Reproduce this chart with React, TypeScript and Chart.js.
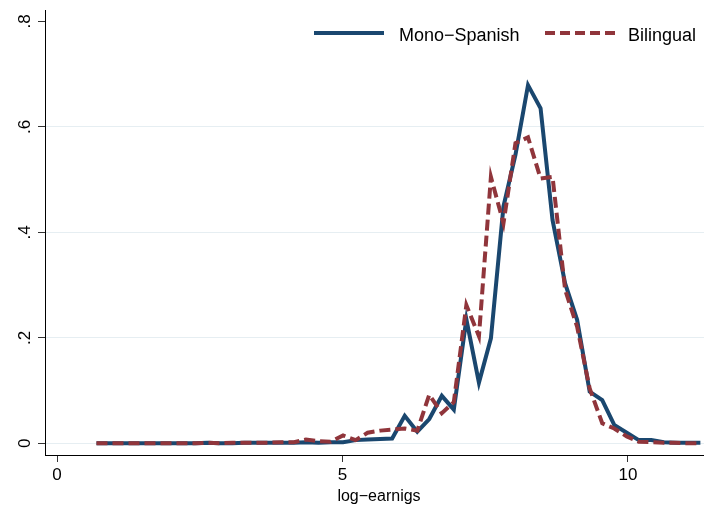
import React, { useEffect, useRef } from 'react';
import { Chart, registerables } from 'chart.js';

Chart.register(...registerables);

// Evaluation grid (log-earnings)
const xGrid = [
  0.69, 0.91, 1.12, 1.34, 1.55, 1.77, 1.99, 2.2, 2.42, 2.63,
  2.85, 3.07, 3.28, 3.5, 3.71, 3.93, 4.15, 4.36, 4.58, 4.79,
  5.01, 5.23, 5.44, 5.66, 5.87, 6.09, 6.31, 6.52, 6.74, 6.95,
  7.17, 7.39, 7.6, 7.82, 8.03, 8.25, 8.47, 8.68, 8.9, 9.11,
  9.33, 9.55, 9.76, 9.98, 10.19, 10.41, 10.63, 10.84, 11.06, 11.27,
];

const monoSpanish = [
  0, 0, 0, 0, 0, 0, 0, 0, 0, 0.001,
  0, 0, 0.001, 0.001, 0.001, 0.001, 0.001, 0.002, 0.001, 0.002,
  0.002, 0.006, 0.007, 0.008, 0.009, 0.052, 0.022, 0.046, 0.09, 0.064,
  0.235, 0.115, 0.199, 0.449, 0.547, 0.679, 0.635, 0.423, 0.303, 0.234,
  0.098, 0.082, 0.035, 0.02, 0.006, 0.006, 0.002, 0.001, 0.001, 0.001,
];

const bilingual = [
  0, 0, 0, 0, 0, 0, 0, 0, 0, 0.001,
  0, 0.001, 0.001, 0.001, 0.001, 0.002, 0.002, 0.007, 0.004, 0.003,
  0.015, 0.006, 0.02, 0.024, 0.026, 0.028, 0.024, 0.092, 0.057, 0.078,
  0.262, 0.203, 0.505, 0.417, 0.569, 0.58, 0.502, 0.505, 0.291, 0.221,
  0.104, 0.038, 0.028, 0.013, 0.003, 0.002, 0.001, 0.001, 0, 0,
];

const xTicks = [0, 5, 10];
const xTickLabels = ['0', '5', '10'];
const yTicks = [0, 0.2, 0.4, 0.6, 0.8];
const yTickLabels = ['0', '.2', '.4', '.6', '.8'];
const seriesNames = ['Mono\u2212Spanish', 'Bilingual'];
const xTitle = 'log\u2212earnigs';

const NAVY = '#1a476f';
const MAROON = '#90353b';
const FONT = '"Liberation Sans", Arial, Helvetica, sans-serif';

function labelFor(values: number[], labels: string[], v: number): string {
  for (let i = 0; i < values.length; i++) {
    if (Math.abs(values[i] - v) < 1e-6) return labels[i];
  }
  return '';
}

const overlayPlugin = {
  id: 'stataOverlay',
  afterDraw(chart: any) {
    const ctx = chart.ctx as CanvasRenderingContext2D;
    ctx.save();
    // legend
    ctx.lineCap = 'butt';
    ctx.lineWidth = 4;
    ctx.strokeStyle = NAVY;
    ctx.setLineDash([]);
    ctx.beginPath();
    ctx.moveTo(314, 33);
    ctx.lineTo(384, 33);
    ctx.stroke();

    ctx.strokeStyle = MAROON;
    ctx.setLineDash([10, 5]);
    ctx.beginPath();
    ctx.moveTo(545, 33);
    ctx.lineTo(615, 33);
    ctx.stroke();
    ctx.setLineDash([]);

    ctx.fillStyle = '#000';
    ctx.font = `18px ${FONT}`;
    ctx.textAlign = 'left';
    ctx.textBaseline = 'alphabetic';
    ctx.fillText(seriesNames[0], 399, 41);
    ctx.fillText(seriesNames[1], 628, 41);

    // x-axis title
    ctx.font = `16px ${FONT}`;
    ctx.textAlign = 'center';
    ctx.fillText(xTitle, 379, 501);
    ctx.restore();
  },
};

export default function App() {
  const canvasRef = useRef<HTMLCanvasElement | null>(null);

  useEffect(() => {
    document.body.style.margin = '0';
    const canvas = canvasRef.current;
    if (!canvas) return;

    const chart = new Chart(canvas, {
      type: 'line',
      data: {
        datasets: [
          {
            label: seriesNames[1],
            data: xGrid.map((x, i) => ({ x, y: bilingual[i] })),
            borderColor: MAROON,
            borderWidth: 4,
            borderDash: [11, 5],
            pointRadius: 0,
            tension: 0,
            fill: false,
            order: 0,
          },
          {
            label: seriesNames[0],
            data: xGrid.map((x, i) => ({ x, y: monoSpanish[i] })),
            borderColor: NAVY,
            borderWidth: 4,
            pointRadius: 0,
            tension: 0,
            fill: false,
            order: 1,
          },
        ],
      },
      options: {
        responsive: false,
        animation: false,
        devicePixelRatio: 1,
        layout: { padding: { top: 10, left: 0, right: 0, bottom: 0 } },
        plugins: {
          legend: { display: false },
          tooltip: { enabled: false },
          title: { display: false },
        },
        scales: {
          x: {
            type: 'linear',
            min: -0.212,
            max: 11.333,
            afterBuildTicks: (s: any) => {
              s.ticks = xTicks.map((v) => ({ value: v }));
            },
            afterFit: (s: any) => {
              s.height = 53;
              s.paddingLeft = 0;
              s.paddingRight = 0;
            },
            grid: {
              drawOnChartArea: false,
              tickLength: 7,
              tickColor: '#333',
              tickWidth: 1,
            },
            border: { display: true, color: '#000', width: 1 },
            ticks: {
              color: '#000',
              font: { family: FONT, size: 17 },
              padding: 3,
              maxRotation: 0,
              minRotation: 0,
              callback: (v: any) => labelFor(xTicks, xTickLabels, Number(v)),
            },
          },
          y: {
            type: 'linear',
            min: -0.0222,
            max: 0.8214,
            afterBuildTicks: (s: any) => {
              s.ticks = yTicks.map((v) => ({ value: v }));
            },
            afterFit: (s: any) => {
              s.width = 45;
              s.paddingTop = 0;
              s.paddingBottom = 0;
            },
            grid: {
              color: (c: any) =>
                c.tick && c.tick.value > 0.75 ? 'rgba(0,0,0,0)' : '#e6eef2',
              lineWidth: 1,
              tickLength: 7,
              tickColor: '#333',
              tickWidth: 1,
            },
            border: { display: true, color: '#000', width: 1 },
            ticks: {
              color: '#000',
              font: { family: FONT, size: 17 },
              minRotation: 90,
              maxRotation: 90,
              crossAlign: 'center',
              padding: 6,
              callback: (v: any) => labelFor(yTicks, yTickLabels, Number(v)),
            },
          },
        },
      },
      plugins: [overlayPlugin],
    } as any);

    return () => {
      chart.destroy();
    };
  }, []);

  return (
    <div style={{ width: 704, height: 508 }}>
      <canvas ref={canvasRef} width={704} height={508} style={{ display: 'block' }} />
    </div>
  );
}
